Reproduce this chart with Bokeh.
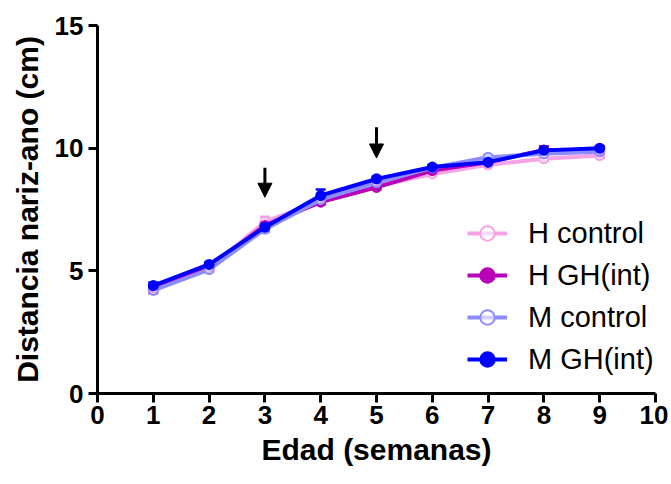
from bokeh.plotting import figure
from bokeh.models import (ColumnDataSource, Whisker, TeeHead, Legend, LegendItem,
                          Arrow, NormalHead, FixedTicker, Range1d)
from bokeh.embed import file_html
from bokeh.resources import INLINE

weeks = [1, 2, 3, 4, 5, 6, 7, 8, 9]
h_control = [4.25, 5.10, 7.00, 7.85, 8.45, 8.95, 9.32, 9.57, 9.70]
h_control_err = [0.10, 0.08, 0.20, 0.10, 0.08, 0.08, 0.08, 0.08, 0.08]
h_gh = [4.30, 5.15, 6.85, 7.80, 8.40, 9.09, 9.43, 9.93, 9.88]
h_gh_err = [0.10, 0.08, 0.12, 0.10, 0.08, 0.08, 0.08, 0.15, 0.08]
m_control = [4.20, 5.05, 6.70, 7.90, 8.60, 9.20, 9.63, 9.77, 9.85]
m_control_err = [0.12, 0.10, 0.12, 0.12, 0.08, 0.08, 0.08, 0.10, 0.08]
m_gh = [4.40, 5.26, 6.78, 8.07, 8.75, 9.23, 9.43, 9.91, 10.00]
m_gh_err = [0.12, 0.08, 0.15, 0.25, 0.08, 0.08, 0.08, 0.10, 0.08]

labels = ["H control", "H GH(int)", "M control", "M GH(int)"]
colors = ["#F5A3E6", "#B800B8", "#8C8CFF", "#0000FF"]
filled = [False, True, False, True]

arrow_weeks = [3, 5]
arrow_top = [9.2, 10.85]
arrow_bottom = [8.0, 9.6]

FONT = "Liberation Sans"

p = figure(width=668, height=476, output_backend="svg", toolbar_location=None,
           x_range=Range1d(0, 10), y_range=Range1d(0, 15),
           min_border_left=97, min_border_right=13, min_border_top=25,
           min_border_bottom=83)
p.outline_line_color = None
p.grid.grid_line_color = None

for ax in (p.xaxis, p.yaxis):
    ax.axis_line_width = 3
    ax.major_tick_line_width = 3
    ax.major_tick_in = 0
    ax.major_tick_out = 9
    ax.minor_tick_line_color = None
    ax.major_label_text_font = FONT
    ax.major_label_text_font_style = "bold"
    ax.major_label_text_font_size = "26px"
    ax.major_label_text_color = "black"
    ax.axis_label_text_font = FONT
    ax.axis_label_text_font_style = "bold"
    ax.axis_label_text_font_size = "30px"
    ax.axis_label_text_color = "black"

p.xaxis.ticker = FixedTicker(ticks=list(range(0, 11)))
p.yaxis.ticker = FixedTicker(ticks=[0, 5, 10, 15])
p.xaxis.axis_label = "Edad (semanas)"
p.yaxis.axis_label = "Distancia nariz-ano (cm)"
p.xaxis.major_label_standoff = 3
p.yaxis.major_label_standoff = 5
p.xaxis.axis_label_standoff = 6
p.yaxis.axis_label_standoff = 8

series = [(h_control, h_control_err), (h_gh, h_gh_err),
          (m_control, m_control_err), (m_gh, m_gh_err)]

items = []
for (vals, errs), lab, col, fil in zip(series, labels, colors, filled):
    src = ColumnDataSource(dict(x=weeks, y=vals,
                                lo=[v - e for v, e in zip(vals, errs)],
                                hi=[v + e for v, e in zip(vals, errs)]))
    w = Whisker(source=src, base="x", upper="hi", lower="lo",
                line_color=col, line_width=2.5,
                upper_head=TeeHead(size=10, line_color=col, line_width=2.5),
                lower_head=TeeHead(size=10, line_color=col, line_width=2.5))
    p.add_layout(w)
    ln = p.line("x", "y", source=src, line_color=col, line_width=4)
    sc = p.scatter("x", "y", source=src, size=9, line_color=col, line_width=2,
                   fill_color=col if fil else "white", fill_alpha=1.0 if fil else 0.6)
    items.append(LegendItem(label=lab, renderers=[ln, sc]))

for xw, yt, yb in zip(arrow_weeks, arrow_top, arrow_bottom):
    p.add_layout(Arrow(x_start=xw, y_start=yt, x_end=xw, y_end=yb,
                       line_width=3, line_color="black",
                       end=NormalHead(size=14, fill_color="black", line_color="black")))

legend = Legend(items=items, location=(370, 16), glyph_width=40, glyph_height=36,
                label_height=36, spacing=6, padding=0, margin=0,
                label_standoff=21, border_line_color=None, background_fill_alpha=0,
                label_text_font=FONT, label_text_font_size="29px",
                label_text_color="black")
p.add_layout(legend, "center")

open("out.html", "w").write(file_html(p, INLINE))
